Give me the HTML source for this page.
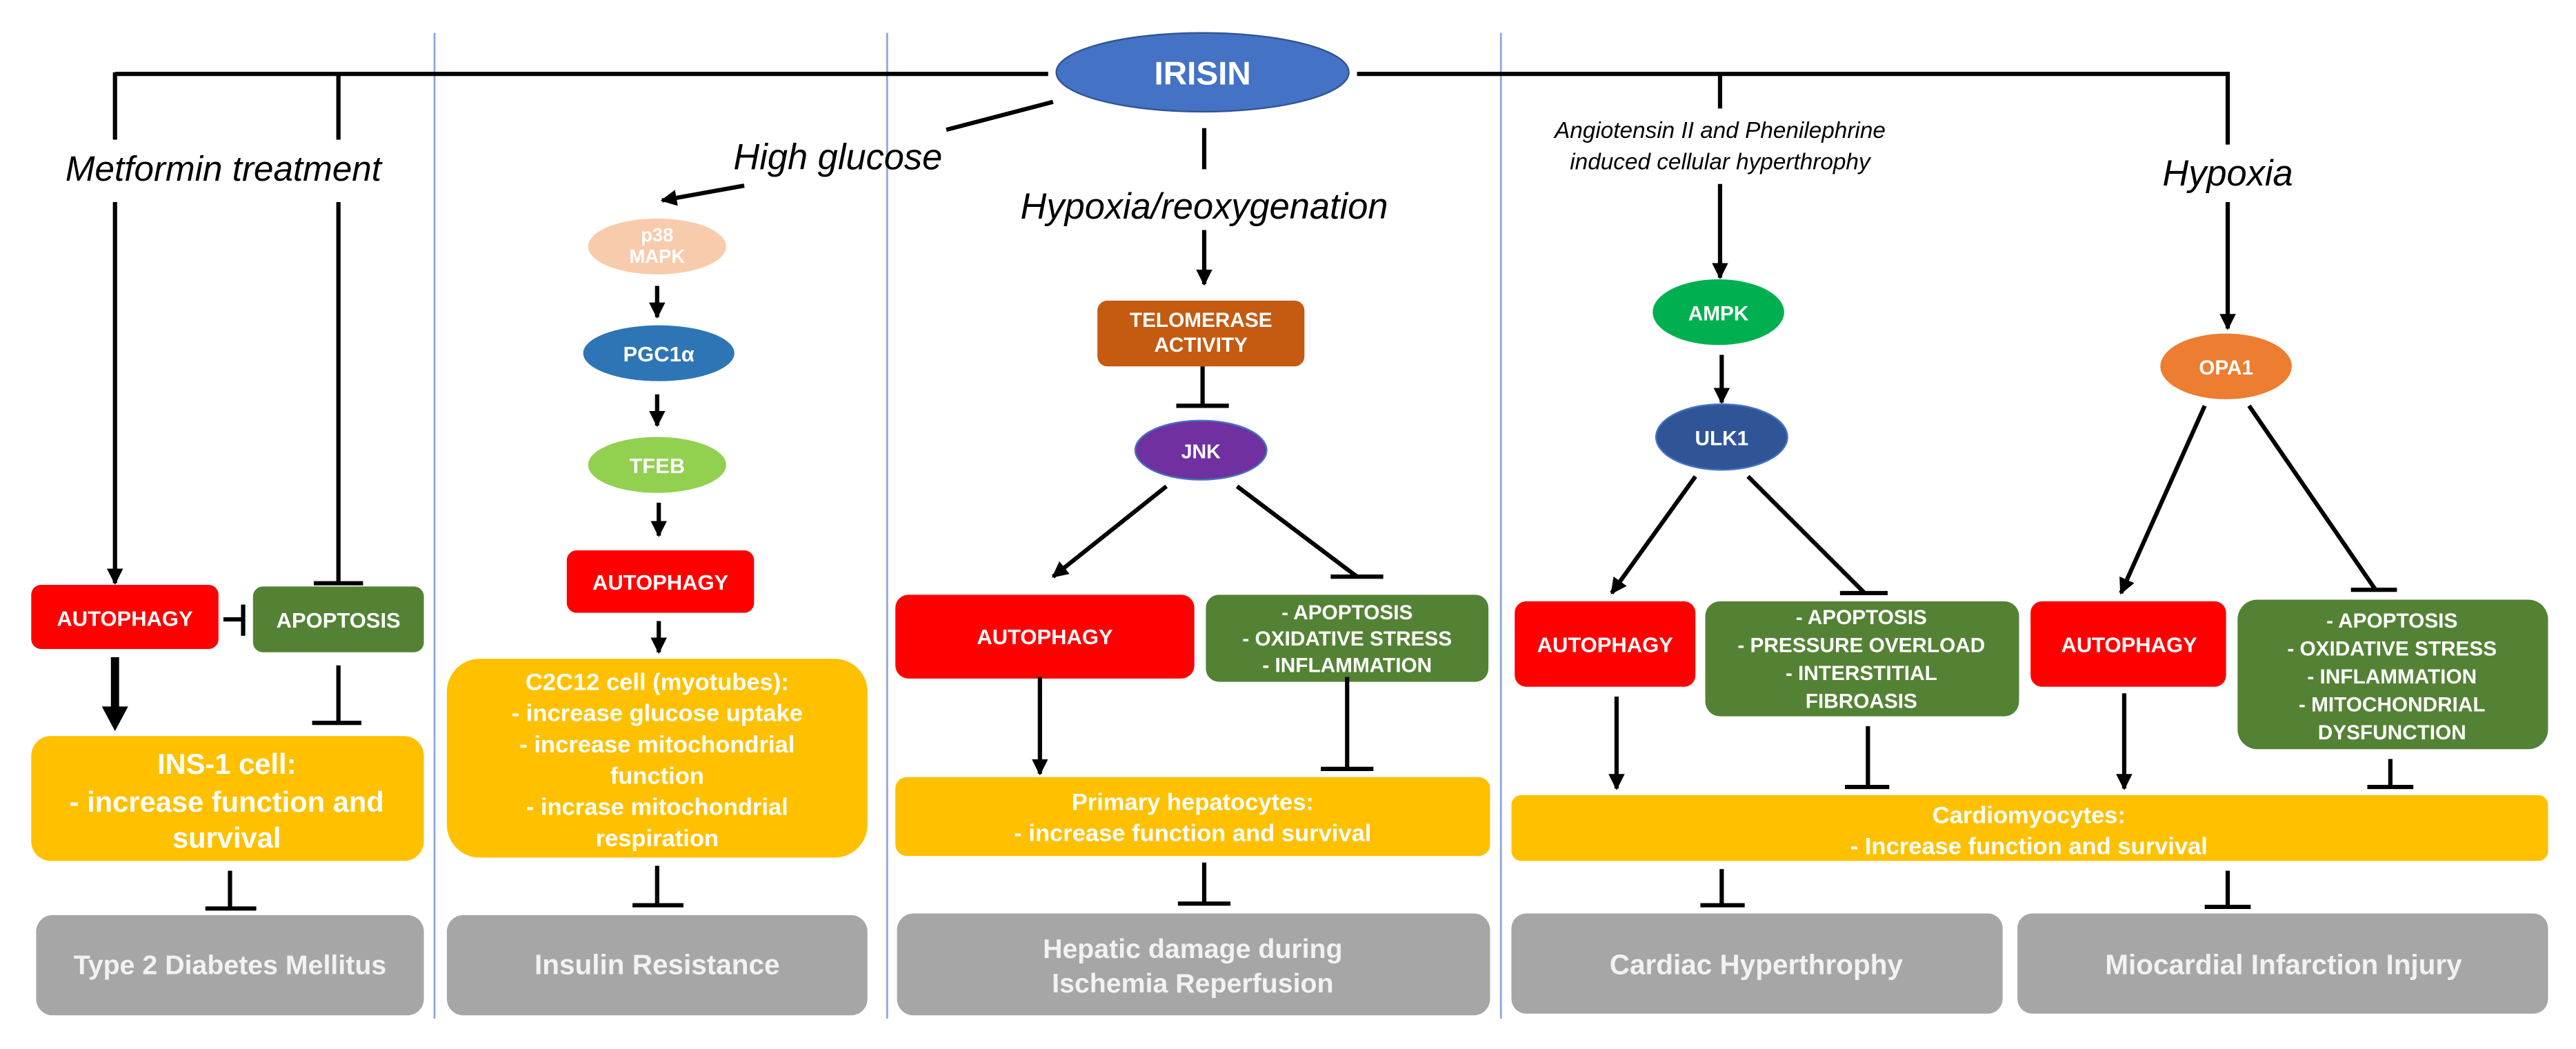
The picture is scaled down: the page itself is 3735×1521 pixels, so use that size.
<!DOCTYPE html>
<html><head><meta charset="utf-8"><style>
html,body{margin:0;padding:0;background:#fff;}
svg{display:block;}
text{font-family:"Liberation Sans",Arial,sans-serif;}
.b{font-weight:bold;fill:#fff;text-anchor:middle;}
.g{font-weight:bold;fill:#F2F2F2;text-anchor:middle;}
.i{font-style:italic;fill:#000;text-anchor:middle;}
.l{stroke:#000;stroke-width:2.6;fill:none;}
.sep{stroke:#8EA9DB;stroke-width:1.2;}
</style></head><body>
<svg width="3735" height="1521" viewBox="0 0 1568 638.5" preserveAspectRatio="none" xmlns="http://www.w3.org/2000/svg">
<defs>
<marker id="a" viewBox="0 0 10 10" refX="9" refY="5" markerWidth="3.8" markerHeight="3.8" orient="auto"><path d="M0,0 L10,5 L0,10 z" fill="#000"/></marker>
</defs>
<line class="sep" x1="264.5" y1="20" x2="264.5" y2="620"/>
<line class="sep" x1="540" y1="20" x2="540" y2="620"/>
<line class="sep" x1="913.6" y1="20" x2="913.6" y2="620"/>

<path class="l" d="M70,45 H638"/>
<path class="l" d="M826,45 H1356 V88"/>
<path class="l" d="M70,44 V85"/>
<path class="l" d="M206,44 V85"/>
<path class="l" d="M1047,44 V66"/>

<ellipse cx="732" cy="44" rx="89" ry="24" fill="#4472C4" stroke="#2F5597" stroke-width="1"/>
<text class="b" x="732" y="51.5" font-size="20">IRISIN</text>

<text class="i" x="136" y="110" font-size="21.5">Metformin treatment</text>
<path class="l" d="M70,123 V355" marker-end="url(#a)"/>
<path class="l" d="M206,123 V355 M191,355 H221"/>
<rect x="19" y="356" width="114" height="39" rx="6" fill="#FF0000"/>
<text class="b" x="76" y="381" font-size="13">AUTOPHAGY</text>
<rect x="154" y="357" width="104" height="40" rx="6" fill="#548235"/>
<text class="b" x="206" y="382" font-size="13">APOPTOSIS</text>
<path class="l" d="M136,377 H147 M148,368 V387"/>
<path d="M70,400 V432" stroke="#000" stroke-width="5"/>
<path d="M62,430 L78,430 L70,445 z" fill="#000"/>
<path class="l" d="M206,405 V440 M190,440 H220"/>
<rect x="19" y="448" width="239" height="76" rx="12" fill="#FFC000"/>
<text class="b" x="138" y="471" font-size="17.5">INS-1 cell:</text>
<text class="b" x="138" y="494" font-size="17.5">- increase function and</text>
<text class="b" x="138" y="516" font-size="17.5">survival</text>
<path class="l" d="M140,530 V553 M125,553 H156"/>
<rect x="22" y="557" width="236" height="61" rx="10" fill="#A6A6A6"/>
<text class="g" x="140" y="593" font-size="16.5">Type 2 Diabetes Mellitus</text>

<text class="i" x="510" y="103" font-size="22">High glucose</text>
<path class="l" d="M641,62 L576,79"/>
<path class="l" d="M453,113 L403,122" marker-end="url(#a)"/>
<ellipse cx="400" cy="150" rx="42" ry="17" fill="#F8CBAD"/>
<text class="b" x="400" y="147" font-size="11.5">p38</text>
<text class="b" x="400" y="160" font-size="11.5">MAPK</text>
<path class="l" d="M400,174 V193" marker-end="url(#a)"/>
<ellipse cx="401" cy="215" rx="46" ry="17" fill="#2E75B6"/>
<text class="b" x="401" y="220" font-size="13">PGC1α</text>
<path class="l" d="M400,240 V259" marker-end="url(#a)"/>
<ellipse cx="400" cy="283" rx="42" ry="17" fill="#92D050"/>
<text class="b" x="400" y="288" font-size="13">TFEB</text>
<path class="l" d="M401,306 V326" marker-end="url(#a)"/>
<rect x="345" y="335" width="114" height="38" rx="6" fill="#FF0000"/>
<text class="b" x="402" y="359" font-size="13">AUTOPHAGY</text>
<path class="l" d="M401,378 V397" marker-end="url(#a)"/>
<rect x="272" y="401" width="256" height="121" rx="20" fill="#FFC000"/>
<text class="b" x="400" y="420" font-size="14.5">C2C12 cell (myotubes):</text>
<text class="b" x="400" y="439" font-size="14.5">- increase glucose uptake</text>
<text class="b" x="400" y="458" font-size="14.5">- increase mitochondrial</text>
<text class="b" x="400" y="477" font-size="14.5">function</text>
<text class="b" x="400" y="496" font-size="14.5">- incrase mitochondrial</text>
<text class="b" x="400" y="515" font-size="14.5">respiration</text>
<path class="l" d="M400,527 V551 M385,551 H416"/>
<rect x="272" y="557" width="256" height="61" rx="10" fill="#A6A6A6"/>
<text class="g" x="400" y="593" font-size="17">Insulin Resistance</text>

<path class="l" d="M733,78 V103"/>
<text class="i" x="733" y="133" font-size="22">Hypoxia/reoxygenation</text>
<path class="l" d="M733,140 V173" marker-end="url(#a)"/>
<rect x="668" y="183" width="126" height="40" rx="6" fill="#C55A11"/>
<text class="b" x="731" y="199" font-size="12.5">TELOMERASE</text>
<text class="b" x="731" y="214" font-size="12.5">ACTIVITY</text>
<path class="l" d="M732,223 V247 M716,247 H748"/>
<ellipse cx="731" cy="274" rx="40" ry="18" fill="#7030A0" stroke="#4472C4" stroke-width="1"/>
<text class="b" x="731" y="279" font-size="12">JNK</text>
<path class="l" d="M710,296 L641,351" marker-end="url(#a)"/>
<path class="l" d="M753,296 L826,351 M810,351 H842"/>
<rect x="545" y="362" width="182" height="51" rx="8" fill="#FF0000"/>
<text class="b" x="636" y="392" font-size="13">AUTOPHAGY</text>
<rect x="734" y="362" width="172" height="53" rx="8" fill="#548235"/>
<text class="b" x="820" y="377" font-size="12.5">- APOPTOSIS</text>
<text class="b" x="820" y="393" font-size="12.5">- OXIDATIVE STRESS</text>
<text class="b" x="820" y="409" font-size="12.5">- INFLAMMATION</text>
<path class="l" d="M633,412 V471" marker-end="url(#a)"/>
<path class="l" d="M820,412 V468 M804,468 H836"/>
<rect x="545" y="473" width="362" height="48" rx="7" fill="#FFC000"/>
<text class="b" x="726" y="493" font-size="14.5">Primary hepatocytes:</text>
<text class="b" x="726" y="512" font-size="14.5">- increase function and survival</text>
<path class="l" d="M733,525 V550 M717,550 H749"/>
<rect x="546" y="556" width="361" height="62" rx="10" fill="#A6A6A6"/>
<text class="g" x="726" y="583" font-size="16.5">Hepatic damage during</text>
<text class="g" x="726" y="604" font-size="16.5">Ischemia Reperfusion</text>

<text class="i" x="1047" y="84" font-size="14">Angiotensin II and Phenilephrine</text>
<text class="i" x="1047" y="103" font-size="14">induced cellular hyperthrophy</text>
<path class="l" d="M1047,112 V169" marker-end="url(#a)"/>
<ellipse cx="1046" cy="190" rx="40" ry="20" fill="#00B050"/>
<text class="b" x="1046" y="195" font-size="12.5">AMPK</text>
<path class="l" d="M1048,216 V245" marker-end="url(#a)"/>
<ellipse cx="1048" cy="266" rx="40" ry="20" fill="#2F5597" stroke="#4472C4" stroke-width="1"/>
<text class="b" x="1048" y="271" font-size="12.5">ULK1</text>
<path class="l" d="M1032,290 L981,361" marker-end="url(#a)"/>
<path class="l" d="M1064,290 L1135,361 M1120,361 H1149"/>
<rect x="922" y="366" width="110" height="52" rx="7" fill="#FF0000"/>
<text class="b" x="977" y="397" font-size="13">AUTOPHAGY</text>
<rect x="1038" y="366" width="191" height="70" rx="9" fill="#548235"/>
<text class="b" x="1133" y="380" font-size="12.5">- APOPTOSIS</text>
<text class="b" x="1133" y="397" font-size="12.5">- PRESSURE OVERLOAD</text>
<text class="b" x="1133" y="414" font-size="12.5">- INTERSTITIAL</text>
<text class="b" x="1133" y="431" font-size="12.5">FIBROASIS</text>
<path class="l" d="M984,424 V480" marker-end="url(#a)"/>
<path class="l" d="M1137,442 V479 M1123,479 H1150"/>
<text class="i" x="1356" y="113" font-size="22">Hypoxia</text>
<path class="l" d="M1356,123 V200" marker-end="url(#a)"/>
<ellipse cx="1355" cy="223" rx="40" ry="20" fill="#ED7D31"/>
<text class="b" x="1355" y="228" font-size="12.5">OPA1</text>
<path class="l" d="M1342,247 L1291,361" marker-end="url(#a)"/>
<path class="l" d="M1369,247 L1446,359 M1431,359 H1459"/>
<rect x="1236" y="366" width="119" height="52" rx="7" fill="#FF0000"/>
<text class="b" x="1296" y="397" font-size="13">AUTOPHAGY</text>
<rect x="1362" y="365" width="189" height="91" rx="12" fill="#548235"/>
<text class="b" x="1456" y="382" font-size="12.5">- APOPTOSIS</text>
<text class="b" x="1456" y="399" font-size="12.5">- OXIDATIVE STRESS</text>
<text class="b" x="1456" y="416" font-size="12.5">- INFLAMMATION</text>
<text class="b" x="1456" y="433" font-size="12.5">- MITOCHONDRIAL</text>
<text class="b" x="1456" y="450" font-size="12.5">DYSFUNCTION</text>
<path class="l" d="M1293,422 V480" marker-end="url(#a)"/>
<path class="l" d="M1455,462 V479 M1441,479 H1469"/>
<rect x="920" y="484" width="631" height="40" rx="6" fill="#FFC000"/>
<text class="b" x="1235" y="501" font-size="14.5">Cardiomyocytes:</text>
<text class="b" x="1235" y="520" font-size="14.5">- Increase function and survival</text>
<path class="l" d="M1048,529 V551 M1035,551 H1062"/>
<path class="l" d="M1356,530 V552 M1342,552 H1370"/>
<rect x="920" y="556" width="299" height="61" rx="9" fill="#A6A6A6"/>
<text class="g" x="1069" y="593" font-size="17">Cardiac Hyperthrophy</text>
<rect x="1228" y="556" width="323" height="61" rx="9" fill="#A6A6A6"/>
<text class="g" x="1390" y="593" font-size="17">Miocardial Infarction Injury</text>
</svg>
</body></html>
